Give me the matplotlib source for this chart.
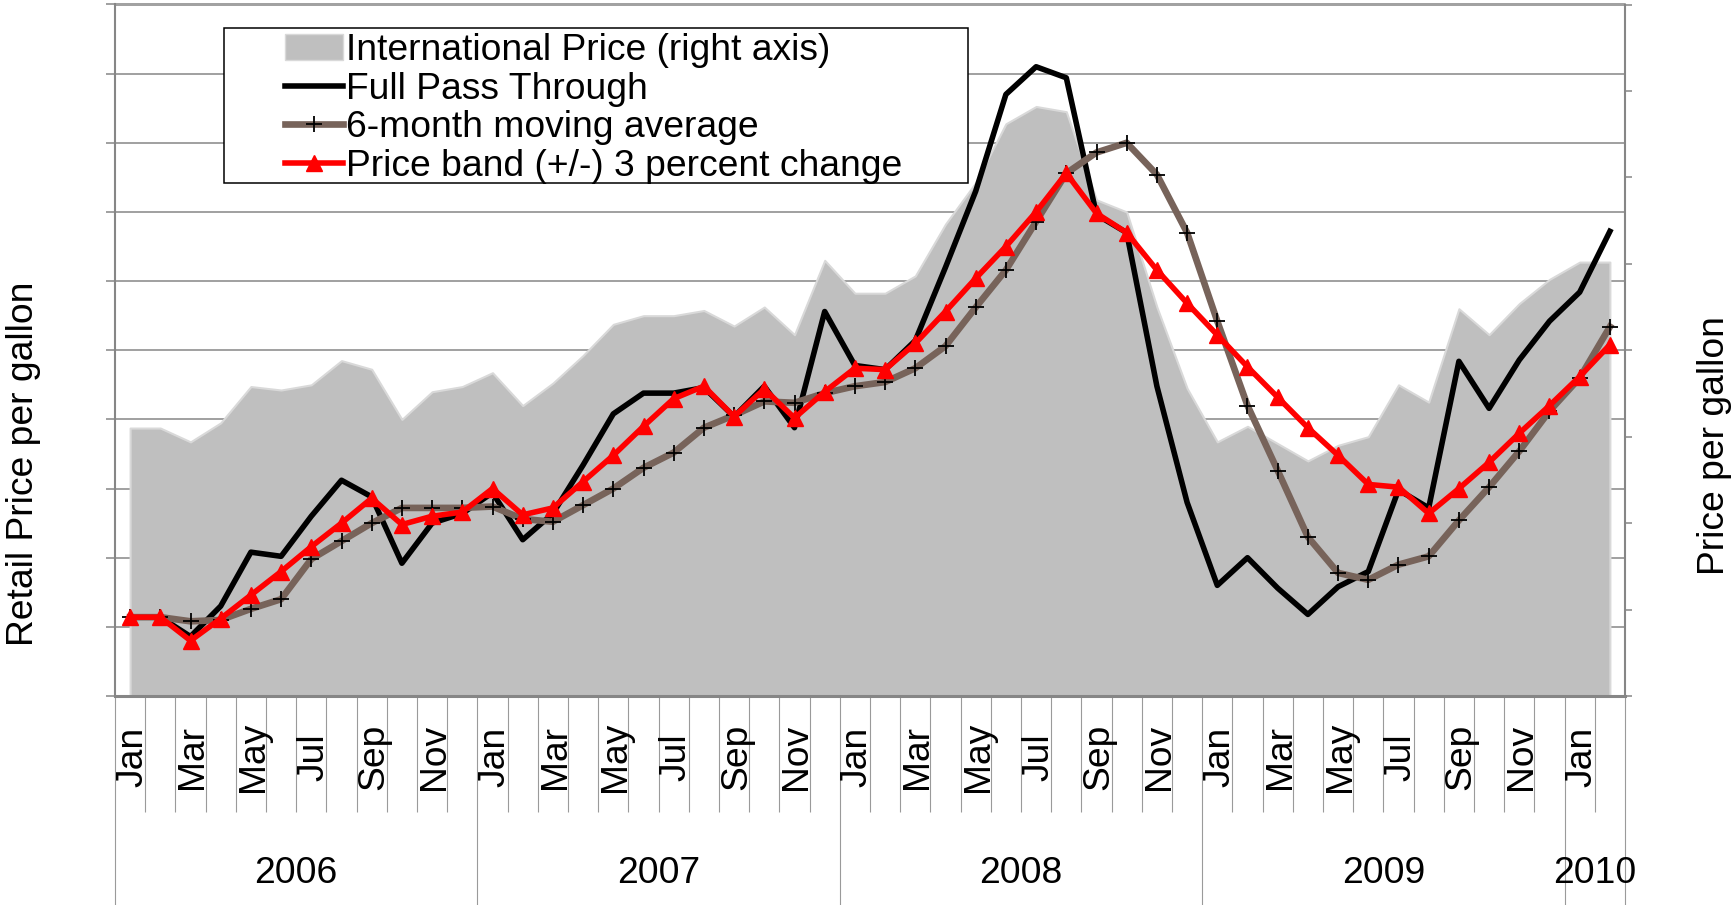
import matplotlib.pyplot as plt
from matplotlib.patches import Rectangle, Patch
from matplotlib.lines import Line2D
from matplotlib.transforms import blended_transform_factory

plt.rcParams['font.family'] = ['Liberation Sans', 'DejaVu Sans']

# monthly values, Jan 2006 - Feb 2010 (no axis numbers shown)
intl_price = [1.55, 1.55, 1.47, 1.58, 1.79, 1.77, 1.80, 1.94, 1.89, 1.60, 1.76, 1.79,
              1.87, 1.68, 1.81, 1.97, 2.15, 2.20, 2.20, 2.23, 2.14, 2.25, 2.09, 2.52,
              2.33, 2.33, 2.43, 2.73, 2.97, 3.31, 3.41, 3.38, 2.87, 2.80, 2.25, 1.78,
              1.47, 1.56, 1.46, 1.36, 1.45, 1.50, 1.80, 1.70, 2.24, 2.09, 2.27, 2.41,
              2.51, 2.51]
full_pass = [0.57, 0.57, 0.43, 0.65, 1.04, 1.01, 1.30, 1.56, 1.44, 0.96, 1.25, 1.32,
             1.47, 1.13, 1.32, 1.67, 2.04, 2.19, 2.19, 2.23, 2.02, 2.24, 1.94, 2.78,
             2.39, 2.36, 2.57, 3.10, 3.65, 4.35, 4.55, 4.47, 3.48, 3.35, 2.24, 1.40,
             0.80, 1.00, 0.78, 0.59, 0.79, 0.90, 1.49, 1.36, 2.42, 2.08, 2.43, 2.71,
             2.92, 3.36]
moving_avg = [0.57, 0.57, 0.54, 0.55, 0.63, 0.70, 0.99, 1.12, 1.25, 1.36, 1.36, 1.36,
              1.37, 1.28, 1.26, 1.38, 1.50, 1.65, 1.76, 1.94, 2.03, 2.13, 2.12, 2.19,
              2.24, 2.27, 2.37, 2.53, 2.81, 3.08, 3.43, 3.78, 3.93, 4.00, 3.77, 3.35,
              2.71, 2.10, 1.63, 1.15, 0.89, 0.84, 0.95, 1.01, 1.27, 1.51, 1.77, 2.06,
              2.30, 2.67]
price_band = [0.57, 0.57, 0.40, 0.56, 0.73, 0.90, 1.08, 1.25, 1.43, 1.24, 1.30, 1.33,
              1.50, 1.31, 1.36, 1.55, 1.74, 1.95, 2.15, 2.24, 2.02, 2.22, 2.01, 2.20,
              2.37, 2.36, 2.55, 2.78, 3.02, 3.25, 3.50, 3.78, 3.49, 3.35, 3.08, 2.84,
              2.61, 2.38, 2.16, 1.94, 1.74, 1.53, 1.51, 1.32, 1.50, 1.69, 1.90, 2.10,
              2.31, 2.54]

month_abbr = ['Jan', 'Feb', 'Mar', 'Apr', 'May', 'Jun',
              'Jul', 'Aug', 'Sep', 'Oct', 'Nov', 'Dec']
years = ['2006', '2007', '2008', '2009', '2010']
year_start = [0, 12, 24, 36, 48]
year_end = [12, 24, 36, 48, 50]

series_labels = ['International Price (right axis)', 'Full Pass Through',
                 '6-month moving average', 'Price band (+/-) 3 percent change']

GRAY = '#868686'
BROWN = '#77635a'
FS = 26.8

W, H = 1732, 905
fig = plt.figure(figsize=(W / 100, H / 100), dpi=100)


def fx(px):
    return px / W


def fy(py):
    return 1 - py / H


L, R, T, B = 115, 1625, 4.5, 696
ax = fig.add_axes([fx(L), fy(B), fx(R) - fx(L), fy(T) - fy(B)])
ax2 = ax.twinx()
ax.set_zorder(ax2.get_zorder() + 1)
ax.patch.set_visible(False)

n = len(full_pass)
x = list(range(n))
left_max, right_max = 5.0, 4.0
left_ticks = [i * 0.5 for i in range(11)]
right_ticks = [i * 0.5 for i in range(9)]

# area on the right axis, gridlines sit behind it
ax2.hlines([t * right_max / left_max for t in left_ticks], -0.5, n - 0.5,
           color=GRAY, lw=1.1, zorder=0)
ax2.fill_between(x, 0, intl_price, facecolor='#bfbfbf', edgecolor='#d9d9d9',
                 lw=1.5, zorder=1)
ax2.set_ylim(0, right_max)
ax2.set_yticks(right_ticks)
ax2.tick_params(axis='y', direction='out', length=5, width=1.1, color=GRAY,
                labelright=False)
ax2.tick_params(axis='x', bottom=False, labelbottom=False)
for s in ['top', 'left', 'bottom']:
    ax2.spines[s].set_visible(False)
ax2.spines['right'].set_color(GRAY)
ax2.spines['right'].set_linewidth(1.5)

# lines on the left axis
ax.plot(x, full_pass, color='black', lw=4.0, zorder=3)
ax.plot(x, moving_avg, color=BROWN, lw=4.8, marker='+', ms=11, mec='black',
        mew=1.3, zorder=4)
ax.plot(x, price_band, color='red', lw=4.0, marker='^', ms=12, zorder=5)

ax.set_xlim(-0.5, n - 0.5)
ax.set_ylim(0, left_max)
ax.set_yticks(left_ticks)
ax.tick_params(axis='y', direction='out', length=6.5, width=1.1, color=GRAY,
               labelleft=False)
ax.spines['right'].set_visible(False)
ax.spines['top'].set_color(GRAY)
ax.spines['top'].set_linewidth(1.1)
ax.spines['left'].set_color(GRAY)
ax.spines['left'].set_linewidth(1.5)
ax.spines['bottom'].set_color(GRAY)
ax.spines['bottom'].set_linewidth(2.2)

# two-level category axis: month dividers and longer year dividers
ax.set_xticks([s - 0.5 for s in year_start] + [n - 0.5])
ax.set_xticks([i - 0.5 for i in range(n + 1)], minor=True)
ax.tick_params(axis='x', which='major', direction='out', length=150.5,
               width=0.8, color='#9a9a9a', labelbottom=False)
ax.tick_params(axis='x', which='minor', direction='out', length=83.5,
               width=0.8, color='#9a9a9a', labelbottom=False)

tr = blended_transform_factory(ax.transData, fig.transFigure)
for i in range(0, n, 2):
    ax.text(i + 0.08, fy(757), month_abbr[i % 12], transform=tr, rotation=90,
            ha='center', va='center', fontsize=FS)
for yr, s, e in zip(years, year_start, year_end):
    ax.text((s + e - 1) / 2, fy(873), yr, transform=tr, ha='center',
            va='center', fontsize=FS)

fig.text(fx(24), fy(464), 'Retail Price per gallon', rotation=90,
         ha='center', va='center', fontsize=FS)
fig.text(fx(1714), fy(446), 'Price per gallon', rotation=90,
         ha='center', va='center', fontsize=FS)

# legend with its own frame
box = Rectangle((fx(224), fy(183)), fx(968) - fx(224), (183 - 27.6) / H,
                transform=fig.transFigure, facecolor='white', edgecolor='black',
                lw=1.1, zorder=3)
fig.add_artist(box)
handles = [Patch(facecolor='#bfbfbf', edgecolor='#d9d9d9'),
           Line2D([], [], color='black', lw=4.0),
           Line2D([], [], color=BROWN, lw=4.8, marker='+', ms=11, mec='black',
                  mew=1.3),
           Line2D([], [], color='red', lw=4.0, marker='^', ms=12)]
leg = fig.legend(handles, series_labels, loc='upper left',
                 bbox_to_anchor=(fx(285), fy(33)), frameon=False, borderpad=0,
                 borderaxespad=0, handlelength=1.55, handletextpad=0.1,
                 labelspacing=0.1, fontsize=FS)
leg.set_zorder(4)

fig.savefig('out.png', dpi=100)
